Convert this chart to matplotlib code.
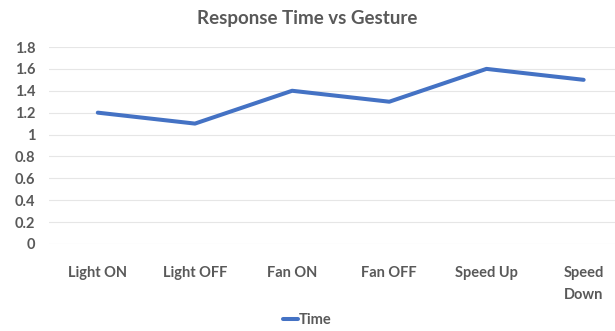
import matplotlib.pyplot as plt

gestures = ['Light ON', 'Light OFF', 'Fan ON', 'Fan OFF', 'Speed Up', 'Speed\nDown']
response_time = [1.2, 1.1, 1.4, 1.3, 1.6, 1.5]
yticks = [0, 0.2, 0.4, 0.6, 0.8, 1, 1.2, 1.4, 1.6, 1.8]

plt.rcParams['font.family'] = ['Lato', 'DejaVu Sans']
text_color = '#595959'

fig = plt.figure(figsize=(6.15, 3.31), dpi=100)
# plot area runs a little past the right edge, like the cropped source
ax = fig.add_axes([0.080, 0.263, 0.948, 0.595])

x = list(range(len(gestures)))
ax.plot(x, response_time, color='#4472C4', linewidth=2.9, solid_capstyle='round',
        label='Time', zorder=3)

ax.set_xlim(-0.5, len(gestures) - 0.5)
ax.set_ylim(0, 1.8)
ax.set_yticks(yticks)
ax.set_yticklabels([f'{v:g}' for v in yticks])
ax.set_xticks(x)
ax.set_xticklabels(gestures)

ax.grid(axis='y', color='#E6E6E6', linewidth=0.8)
ax.set_axisbelow(True)
for side in ax.spines.values():
    side.set_visible(False)
ax.tick_params(length=0, colors=text_color, labelsize=10.5)
ax.tick_params(axis='x', pad=16)
ax.tick_params(axis='y', pad=10)
for lbl in ax.get_xticklabels() + ax.get_yticklabels():
    lbl.set_fontweight('bold')
    lbl.set_color(text_color)
for lbl in ax.get_xticklabels():
    lbl.set_verticalalignment('top')
    lbl.set_linespacing(1.75)

fig.text(0.5, 0.945, 'Response Time vs Gesture', ha='center', va='center',
         fontsize=13.5, fontweight='bold', color=text_color)

leg = fig.legend(loc='center', bbox_to_anchor=(0.5, 0.032), frameon=False,
                 handlelength=1.0, handletextpad=0.1, fontsize=10.5)
for t in leg.get_texts():
    t.set_color(text_color)
    t.set_fontweight('bold')

fig.savefig('out.png', dpi=100)
